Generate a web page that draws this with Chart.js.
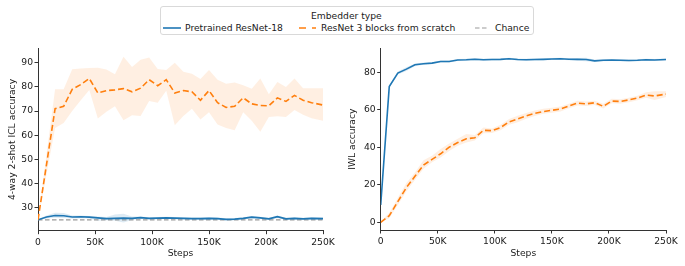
<!DOCTYPE html>
<html>
<head>
<meta charset="utf-8">
<script src="https://cdn.jsdelivr.net/npm/chart.js@4.4.1/dist/chart.umd.min.js"></script>
<style>
  body { margin: 0; background: #fff; font-family: "DejaVu Sans", sans-serif; }
  #wrap { position: relative; width: 685px; height: 266px; overflow: hidden; }
  #leftChart { position: absolute; left: 0; top: 0; }
  #rightChart { position: absolute; left: 340px; top: 0; }
  .legend-box {
    position: absolute; left: 160px; top: 6px; width: 372px; height: 27px;
    border: 1px solid #d9d9d9; border-radius: 3px; background: #fff;
    font-size: 9.2px; color: #1a1a1a;
  }
  .legend-box span, .legend-box svg { position: absolute; white-space: nowrap; }
</style>
</head>
<body>
<div id="wrap">
  <canvas id="leftChart" width="340" height="266"></canvas>
  <canvas id="rightChart" width="345" height="266"></canvas>
  <div class="legend-box">
    <span style="left:150px; top:3px;">Embedder type</span>
    <svg style="left:2px; top:18.5px;" width="18" height="4"><line x1="0" y1="2" x2="18" y2="2" stroke="#1f77b4" stroke-width="1.6"/></svg>
    <span style="left:24px; top:14.5px;">Pretrained ResNet-18</span>
    <svg style="left:138px; top:18.5px;" width="18" height="4"><line x1="0" y1="2" x2="17" y2="2" stroke="#ff7f0e" stroke-width="1.6" stroke-dasharray="7 6"/></svg>
    <span style="left:160px; top:14.5px;">ResNet 3 blocks from scratch</span>
    <svg style="left:312px; top:18.5px;" width="16" height="4"><line x1="2" y1="2" x2="16" y2="2" stroke="#999" stroke-width="1.2" stroke-dasharray="4.5 2.5"/></svg>
    <span style="left:334px; top:14.5px;">Chance</span>
  </div>
</div>
<script>
// training steps, in thousands
const steps = [0, 7.5, 15, 22.5, 30, 37.5, 45, 52.5, 60, 67.5, 75, 82.5, 90, 97.5, 105, 112.5,
  120, 127.5, 135, 142.5, 150, 157.5, 165, 172.5, 180, 187.5, 195, 202.5, 210, 217.5, 225, 232.5, 240, 250];

// left: 4-way 2-shot ICL accuracy
const iclScratch = [25, 48, 71, 72, 79, 81, 83.5, 77.5, 78.5, 78.8, 79.3, 78, 79.5, 83, 80.5, 83,
  77.5, 78.5, 78, 74.5, 78.5, 73.5, 71.5, 72, 75.5, 73, 72.3, 72.2, 75.5, 74, 76.5, 74.5, 73.5, 72.5];
const iclScratchHigh = [25, 52, 79, 79, 87.3, 87.6, 87.8, 87.9, 87.2, 85.3, 92.5, 88.3, 91.3, 92.2, 87.4, 87,
  90, 86.3, 85.5, 83.3, 87, 83, 81.3, 81.8, 80.7, 79.3, 83.5, 77, 82, 80, 83.5, 79.5, 79.5, 79.5];
const iclScratchLow = [25, 44, 63, 65.1, 70, 74.5, 78.7, 66.9, 69.7, 72, 66.2, 68.3, 68, 74.2, 73.5, 78.4,
  64.2, 68, 71, 66.5, 69.5, 64.5, 63, 62.1, 69.5, 66, 61.5, 67.6, 67.9, 67.6, 70.5, 68.5, 67, 66];
const iclPretrained = [25, 26.2, 26.8, 26.7, 26.2, 26.3, 26.1, 25.8, 25.5, 25.6, 25.7, 25.6, 25.9, 25.6, 25.7, 25.8,
  25.7, 25.6, 25.5, 25.5, 25.6, 25.5, 25.2, 25.3, 25.6, 26.1, 25.8, 25.4, 26.3, 25.4, 25.6, 25.4, 25.6, 25.5];
const iclPretrainedHigh = [25, 26.8, 27.9, 27.8, 26.8, 26.8, 26.6, 26.4, 26.2, 27.2, 27.5, 26.4, 26.4, 26.1, 26.2, 26.3,
  26.2, 26.1, 26.0, 26.0, 26.1, 26.0, 25.7, 25.8, 26.1, 26.6, 26.3, 25.9, 26.8, 25.9, 26.1, 25.9, 26.1, 26.0];
const iclPretrainedLow = [25, 25.6, 25.9, 25.8, 25.6, 25.7, 25.5, 24.6, 24.8, 24.6, 23.9, 24.9, 25.3, 25.1, 25.2, 25.3,
  25.2, 25.1, 25.0, 25.0, 25.1, 25.0, 24.7, 24.8, 25.1, 25.6, 25.3, 24.9, 25.8, 24.9, 25.1, 24.9, 25.1, 25.0];
const chanceSteps = [0, 250];
const chanceLevel = [25, 25];

// right: IWL accuracy
const iwlPretrained = [9.2, 72.3, 79.5, 81.6, 83.9, 84.5, 84.8, 85.7, 85.7, 86.5, 86.6, 86.9, 86.6, 86.7, 86.8, 87.1,
  86.7, 86.6, 86.7, 86.8, 87, 87.1, 86.9, 86.8, 86.7, 86, 86.3, 86.4, 86.3, 86.2, 86.3, 86.6, 86.5, 86.7];
const iwlPretrainedHigh = [9.6, 72.9, 80.3, 82.6, 84.6, 85.1, 85.3, 86.2, 86.2, 87.0, 87.1, 87.4, 87.1, 87.2, 87.3, 87.6,
  87.2, 87.1, 87.2, 87.3, 87.5, 87.6, 87.4, 87.5, 87.6, 86.6, 86.8, 86.9, 86.8, 86.7, 86.8, 87.1, 87.0, 87.2];
const iwlPretrainedLow = [8.8, 71.7, 78.7, 80.6, 83.2, 83.9, 84.3, 85.2, 85.2, 86.0, 86.1, 86.4, 86.1, 86.2, 86.3, 86.6,
  86.2, 86.1, 86.2, 86.3, 86.5, 86.6, 86.4, 86.1, 85.8, 85.4, 85.8, 85.9, 85.8, 85.7, 85.8, 86.1, 86.0, 86.2];
const iwlScratch = [0, 3.5, 11, 18.5, 24.5, 30.5, 33.5, 36.5, 40, 42.5, 44.5, 45, 49, 48.8, 50.5, 53.5,
  55, 56.7, 58, 59, 59.7, 60.3, 62, 63.5, 63.1, 63.7, 61.8, 64.6, 64.4, 65.2, 66.2, 67.8, 67.3, 68.3];
const iwlScratchHigh = [0.5, 5, 13, 21, 26.5, 33, 35.5, 39, 42, 44.5, 47, 46.5, 50.5, 50, 52, 55,
  56.8, 58.2, 59.5, 60.5, 61, 61.7, 63.2, 64.8, 64.3, 64.8, 63.2, 65.8, 65.6, 66.4, 67.4, 69.3, 69.8, 69.8];
const iwlScratchLow = [0, 2.2, 9.2, 16.5, 22.5, 28.5, 32, 34.5, 38, 40.8, 42.5, 43.6, 47.5, 47.6, 49, 52,
  53.3, 55.2, 56.6, 57.8, 58.4, 59, 60.8, 62.2, 62, 62.5, 60.6, 63.4, 63.2, 64, 65, 66.4, 65.2, 66.8];

const xTicks = [0, 50, 100, 150, 200, 250];
const iclTicks = [30, 40, 50, 60, 70, 80, 90];
const iwlTicks = [0, 20, 40, 60, 80];

const BLUE = '#1f77b4';
const ORANGE = '#ff7f0e';
const font = { family: 'DejaVu Sans', size: 9.2 };

function pts(xs, ys) {
  return xs.map((x, i) => ({ x: x, y: ys[i] }));
}

function meanLine(values, color, dashed) {
  return {
    data: pts(steps, values),
    borderColor: color,
    borderWidth: 1.6,
    borderDash: dashed ? [6, 3] : [],
    pointRadius: 0,
    fill: false
  };
}

function bandPair(high, low, color) {
  return [
    { data: pts(steps, high), borderWidth: 0, pointRadius: 0, fill: false },
    { data: pts(steps, low), borderWidth: 0, pointRadius: 0, fill: '-1', backgroundColor: color }
  ];
}

function buildChart(canvasId, datasets, yMin, yMax, yTicks, yTitle, pad, yWidth, xHeight) {
  const ctx = document.getElementById(canvasId).getContext('2d');
  return new Chart(ctx, {
    type: 'line',
    data: { datasets: datasets },
    options: {
      responsive: false,
      animation: false,
      layout: { padding: pad },
      plugins: { legend: { display: false }, tooltip: { enabled: false } },
      scales: {
        x: {
          type: 'linear',
          min: 0,
          max: 250,
          afterFit: axis => { axis.height = xHeight; },
          afterBuildTicks: axis => { axis.ticks = xTicks.map(v => ({ value: v })); },
          ticks: {
            font: font, color: '#1a1a1a', padding: 3, maxRotation: 0,
            callback: v => (v === 0 ? '0' : v + 'K')
          },
          grid: { drawOnChartArea: false, drawTicks: true, tickLength: 3.5, color: '#333' },
          border: { color: '#333', width: 1 },
          title: { display: true, text: 'Steps', font: font, color: '#1a1a1a', padding: { top: 0, bottom: 7 } }
        },
        y: {
          min: yMin,
          max: yMax,
          afterFit: axis => { axis.width = yWidth; },
          afterBuildTicks: axis => { axis.ticks = yTicks.map(v => ({ value: v })); },
          ticks: { font: font, color: '#1a1a1a', padding: 1.5 },
          grid: { drawOnChartArea: false, drawTicks: true, tickLength: 3.5, color: '#333' },
          border: { color: '#333', width: 1 },
          title: { display: true, text: yTitle, font: font, color: '#1a1a1a', padding: { top: 7, bottom: 0 } }
        }
      }
    }
  });
}

// left panel
const leftSets = [
  meanLine(iclScratch, ORANGE, true),
  meanLine(iclPretrained, BLUE, false),
  {
    data: pts(chanceSteps, chanceLevel),
    borderColor: '#999', borderWidth: 1.3, borderDash: [4.5, 2.5], pointRadius: 0, fill: false
  }
].concat(
  bandPair(iclScratchHigh, iclScratchLow, 'rgba(255,127,14,0.12)'),
  bandPair(iclPretrainedHigh, iclPretrainedLow, 'rgba(31,119,180,0.15)')
);
buildChart('leftChart', leftSets, 20.5, 96, iclTicks, '4-way 2-shot ICL accuracy',
  { top: 48.3, right: 17, left: 0, bottom: 0 }, 38, 35.3);

// right panel
const rightSets = [
  meanLine(iwlScratch, ORANGE, true),
  meanLine(iwlPretrained, BLUE, false)
].concat(
  bandPair(iwlScratchHigh, iwlScratchLow, 'rgba(255,127,14,0.12)'),
  bandPair(iwlPretrainedHigh, iwlPretrainedLow, 'rgba(31,119,180,0.15)')
);
buildChart('rightChart', rightSets, -4.1, 92.7, iwlTicks, 'IWL accuracy',
  { top: 48.3, right: 19, left: 0, bottom: 0 }, 40.7, 36);
</script>
</body>
</html>
